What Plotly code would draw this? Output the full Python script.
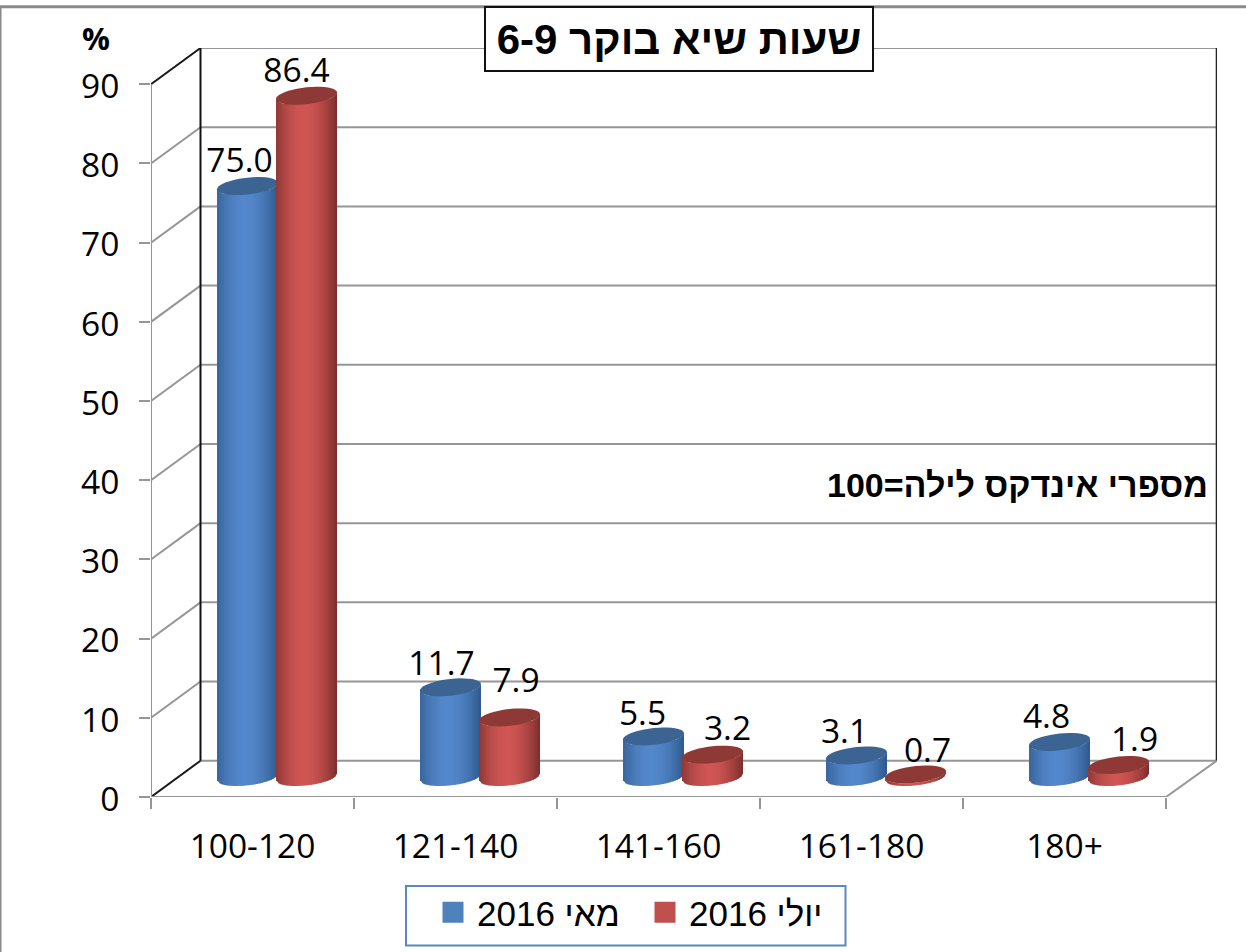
import plotly.graph_objects as go
from math import cos, sin, pi

categories = ["100-120", "121-140", "141-160", "161-180", "180+"]
may_values = [75.0, 11.7, 5.5, 3.1, 4.8]
july_values = [86.4, 7.9, 3.2, 0.7, 1.9]
may_name = "מאי 2016"
july_name = "יולי 2016"
y_ticks = [0, 10, 20, 30, 40, 50, 60, 70, 80, 90]
title_text = "שעות שיא בוקר 6-9"
note_text = "מספרי אינדקס לילה=100"

# ---- layout geometry (pixels of the page)
W, H = 1246, 952
PX_L, PX_R, PX_T, PX_B = 151.0, 1217.0, 47.7, 797.0
CAT_PX = 203.0
Y_PX = 713.0 / 90.0
DEPTH_X, DEPTH_Y = 49.5 / CAT_PX, 36.3 / Y_PX
X_MIN, X_MAX = -0.5, -0.5 + (PX_R - PX_L) / CAT_PX
Y_MAX = (PX_B - PX_T) / Y_PX
TOP_BASE = 2.15            # where a bar of value v ends: TOP_BASE + v
BASE = TOP_BASE + 3.0 / Y_PX   # level of the cylinder floor
HALF_W = 30.5 / CAT_PX
ELL_B, ELL_K = 8.4 / Y_PX, 3.2 / Y_PX
OFFSETS = {"may": -5.0 / CAT_PX, "july": 54.0 / CAT_PX}
GRID = "#969696"
FONT = "Open Sans"
HEB = "Liberation Sans"


def shade(edge, mid, u):
    u0 = -0.08
    d = abs(u - u0) / (1 + abs(u0))
    f = 1 - d ** 1.8
    return "rgb(%d,%d,%d)" % tuple(round(e + (m - e) * f) for e, m in zip(edge, mid))


def line(x0, y0, x1, y1, color=GRID, width=2):
    return dict(type="line", xref="x", yref="y", x0=x0, y0=y0, x1=x1, y1=y1,
                line=dict(color=color, width=width), layer="below")


def front_y(u, level):
    return level + ELL_K * u - ELL_B * (1 - u * u) ** 0.5


def cylinder(cx, value, edge, mid, top):
    out = []
    n = 26
    top_level = TOP_BASE + value
    for i in range(n):
        u0 = -1 + 2 * i / n
        u1 = -1 + 2 * (i + 1) / n
        um = (u0 + u1) / 2
        ub = min(u1 + 0.03, 1)
        xa = cx + u0 * HALF_W
        xb = cx + ub * HALF_W
        path = "M%.4f,%.4f L%.4f,%.4f L%.4f,%.4f L%.4f,%.4f Z" % (
            xa, front_y(u0, BASE), xb, front_y(ub, BASE),
            xb, front_y(ub, top_level), xa, front_y(u0, top_level))
        out.append(dict(type="path", xref="x", yref="y", path=path,
                        fillcolor=shade(edge, mid, um), line=dict(width=0), layer="above"))
    pts = []
    m = 40
    for i in range(m):
        t = 2 * pi * i / m
        pts.append((cx + HALF_W * cos(t), top_level + ELL_K * cos(t) + ELL_B * sin(t)))
    path = "M" + " L".join("%.4f,%.4f" % p for p in pts) + " Z"
    out.append(dict(type="path", xref="x", yref="y", path=path,
                    fillcolor=top, line=dict(width=0), layer="above"))
    return out


shapes = []
# walls and gridlines
xb0, xb1 = X_MIN + DEPTH_X, X_MIN + (1216.7 - PX_L) / CAT_PX
for v in y_ticks:
    shapes.append(line(xb0, v + DEPTH_Y, xb1, v + DEPTH_Y))
    shapes.append(line(X_MIN, v, xb0, v + DEPTH_Y, "#1a1a1a" if v in (0, 90) else GRID, 2))
shapes.append(line(X_MIN, 0, X_MIN, 90))
shapes.append(line(xb0, DEPTH_Y, xb0, 90 + DEPTH_Y, "#111111", 2))
shapes.append(line(xb1, DEPTH_Y, xb1, 90 + DEPTH_Y, "#222222", 2))
shapes.append(line(X_MIN, 0, 4.5, 0))
shapes.append(line(4.5, 0, xb1, DEPTH_Y))

# cylinders: July is drawn after May, so it sits in front
BLUE = ((46, 88, 138), (84, 136, 204), "#3b6493")
RED = ((122, 45, 43), (207, 86, 84), "#8f3937")
for i, v in enumerate(may_values):
    shapes += cylinder(i + OFFSETS["may"], v, *BLUE)
    shapes += cylinder(i + OFFSETS["july"], july_values[i], *RED)

# page frame and legend box
shapes.append(dict(type="rect", xref="paper", yref="paper",
                   x0=(406 - PX_L) / (PX_R - PX_L), x1=(845.5 - PX_L) / (PX_R - PX_L),
                   y0=(PX_B - 945.5) / (PX_B - PX_T), y1=(PX_B - 886) / (PX_B - PX_T),
                   line=dict(color="#5b88c0", width=2), fillcolor="rgba(0,0,0,0)"))
shapes.append(dict(type="line", xref="paper", yref="paper",
                   x0=-PX_L / (PX_R - PX_L), x1=(W - PX_L) / (PX_R - PX_L),
                   y0=(PX_B - 6.5) / (PX_B - PX_T), y1=(PX_B - 6.5) / (PX_B - PX_T),
                   line=dict(color="#8a8a8a", width=3)))
shapes.append(dict(type="line", xref="paper", yref="paper",
                   x0=(0.5 - PX_L) / (PX_R - PX_L), x1=(0.5 - PX_L) / (PX_R - PX_L),
                   y0=(PX_B - H) / (PX_B - PX_T), y1=(PX_B - 6.5) / (PX_B - PX_T),
                   line=dict(color="#8a8a8a", width=2)))

fig = go.Figure()
x_pos = list(range(len(categories)))
for name, vals, off, col in [(may_name, may_values, OFFSETS["may"], "#4f81bd"),
                             (july_name, july_values, OFFSETS["july"], "#c0504d")]:
    fig.add_trace(go.Bar(x=[i + off for i in x_pos], y=vals, base=BASE, width=2 * HALF_W * 0.7,
                         name=name, marker=dict(color=col, line=dict(width=0)),
                         showlegend=False))

# value labels
may_dx = [-8, -9, -11, -12, -13]
july_dx = [-10, 6.5, 15, 12, 16]
may_dy = [22, 21, 20, 21, 22]
july_dy = [22, 34, 23, 21, 22]
for vals, off, dxs, dys in [(may_values, OFFSETS["may"], may_dx, may_dy),
                            (july_values, OFFSETS["july"], july_dx, july_dy)]:
    fig.add_trace(go.Scatter(
        x=[i + off + dx / CAT_PX for i, dx in zip(x_pos, dxs)],
        y=[v + TOP_BASE + dy / Y_PX for v, dy in zip(vals, dys)],
        text=["%.1f" % v for v in vals], mode="text", textposition="middle center",
        textfont=dict(family=FONT, size=33.5, color="#000000"),
        showlegend=False, cliponaxis=False, hoverinfo="skip"))

# legend entries with the solid swatches
for name, col in [(may_name, "#4f81bd"), (july_name, "#c0504d")]:
    fig.add_trace(go.Scatter(x=[None], y=[None], mode="markers", name=name,
                             marker=dict(symbol="square", size=16, color=col,
                                         line=dict(color=col, width=5))))

fig.update_layout(
    width=W, height=H, autosize=False,
    paper_bgcolor="white", plot_bgcolor="white",
    margin=dict(l=PX_L, r=W - PX_R, t=PX_T, b=H - PX_B, pad=0, autoexpand=False),
    barmode="overlay", shapes=shapes,
    xaxis=dict(range=[X_MIN, X_MAX], tickmode="array", tickvals=x_pos, ticktext=categories,
               ticks="", showgrid=False, zeroline=False, showline=False,
               ticklabelstandoff=26,
               tickfont=dict(family=FONT, size=33.5, color="#000000"),
               minor=dict(tickmode="array", tickvals=[-0.5, 0.5, 1.5, 2.5, 3.5, 4.5],
                          ticks="outside", ticklen=11, tickwidth=2, tickcolor=GRID, showgrid=False)),
    yaxis=dict(range=[0, Y_MAX], tickmode="array", tickvals=y_ticks, ticks="outside",
               ticklen=11, tickwidth=2, tickcolor=GRID, showgrid=False, zeroline=False,
               showline=False, ticklabelstandoff=13, ticklabelshift=2,
               tickfont=dict(family=FONT, size=33.5, color="#000000")),
    legend=dict(orientation="h", x=(429 - PX_L) / (PX_R - PX_L), xanchor="left",
                y=(PX_B - 883) / (PX_B - PX_T), yanchor="top", traceorder="normal",
                entrywidth=159, entrywidthmode="pixels", itemsizing="trace", itemwidth=38,
                bgcolor="rgba(0,0,0,0)", borderwidth=0,
                font=dict(family=HEB, size=35, color="#000000")),
    annotations=[
        dict(text="<b>%s</b>" % title_text, xref="paper", yref="paper",
             x=(679 - PX_L) / (PX_R - PX_L), y=(PX_B - 38.5) / (PX_B - PX_T),
             xanchor="center", yanchor="middle", showarrow=False, width=384, height=60,
             bgcolor="white", bordercolor="#111111", borderwidth=2,
             font=dict(family=HEB, size=42, color="#000000")),
        dict(text="<b>%s</b>" % note_text, xref="paper", yref="paper",
             x=(1210 - PX_L) / (PX_R - PX_L), y=(PX_B - 485) / (PX_B - PX_T),
             xanchor="right", yanchor="middle", showarrow=False,
             font=dict(family=HEB, size=34, color="#000000")),
        dict(text="<b>%</b>", xref="paper", yref="paper",
             x=(96 - PX_L) / (PX_R - PX_L), y=(PX_B - 38) / (PX_B - PX_T),
             xanchor="center", yanchor="middle", showarrow=False,
             font=dict(family=FONT, size=31, color="#000000")),
    ],
)

fig.write_html("out.html", config=dict(displayModeBar=False),
               post_script="document.body.style.margin='0';")
